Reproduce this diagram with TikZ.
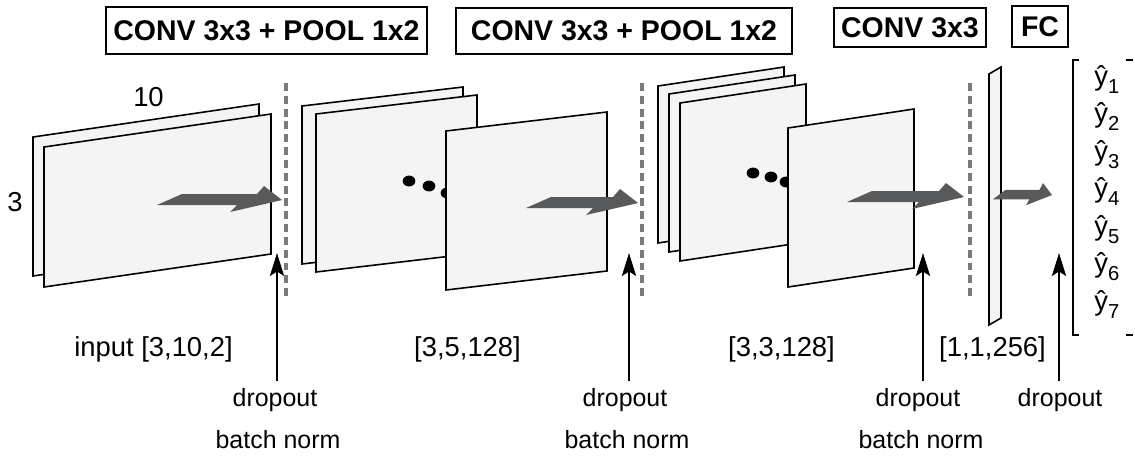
\documentclass[tikz,border=0pt]{standalone}
\usepackage{fontspec}
\setmainfont{Liberation Sans}
\usepackage{xcolor}
\usepackage{tikz}
\usetikzlibrary{arrows.meta}
\definecolor{grisfonce}{HTML}{58595B}
\definecolor{grisclair}{HTML}{F4F4F4}
\definecolor{grispoint}{HTML}{7A7A7A}
\newcommand{\feuille}[5]{\filldraw[feuille] (#1,#2) -- ++(#3,-#5) -- ++(0,#4) -- ++(-#3,#5) -- cycle;}
\newcommand{\grossefleche}[4][]{\fill[grisfonce,shift={(#2,#3)},#1] (0,0) -- (-18,-14) -- (-25,-6) -- (-#4+25,-6) -- (-#4,5) -- (-45,5) -- (-52,12) -- cycle;}

\begin{document}
\begin{tikzpicture}[x=0.02cm,y=-0.02cm]
        \tikzset{feuille/.style={draw=black,fill=grisclair,line width=0.9pt},
          fleche/.style={-{Stealth[length=13pt,width=8pt,inset=2.5pt]},line width=1.5pt,shorten <=4pt},
          sep/.style={grispoint,line width=1.8pt,dash pattern=on 4.5pt off 2.8pt},
          boite/.style={draw,line width=1.1pt,font=\fontsize{16.2}{18}\selectfont\bfseries,inner sep=0pt},
          dim/.style={font=\fontsize{15.6}{18}\selectfont,anchor=base,inner sep=0pt},
          lbl/.style={font=\fontsize{14.2}{16}\selectfont,anchor=base,inner sep=0pt}}
        \useasboundingbox[fill=white] (0,0) rectangle (1135,457);
        \node[boite,minimum width=183pt,minimum height=26.7pt] (C1) at (266.5,30.5) {CONV 3x3 + POOL 1x2};
        \node[boite,minimum width=191.7pt,minimum height=26.1pt] (C2) at (624,31) {CONV 3x3 + POOL 1x2};
        \node[boite,minimum width=86.2pt,minimum height=22.1pt] (C3) at (910,27.5) {CONV 3x3};
        \node[boite,minimum width=31.8pt,minimum height=23.3pt] (FC) at (1040,26.5) {FC};
        \feuille{33}{137}{226}{139}{33}
        \feuille{44}{147}{227}{140}{33}
        \node[dim] (L10) at (148.5,106) {10};
        \node[dim] (L3) at (15,211) {3};
        \grossefleche{282}{200}{125}
        \draw[sep] (286,83) -- (286,298);
        \feuille{302}{106}{161}{158}{19}
        \feuille{316}{114}{161}{158}{19}
        \foreach \x/\y in {409/181,429/186,447/193} \fill (\x,\y) ellipse [x radius=3.6pt,y radius=3.1pt];
        \feuille{446}{131}{161}{159}{19}
        \grossefleche{638}{203}{112}
        \draw[sep] (642,83) -- (642,298);
        \feuille{658}{86}{126}{157}{19}
        \feuille{669}{94}{126}{158}{19}
        \feuille{680}{103}{126}{158}{19}
        \foreach \x/\y in {753/173,771/177,786/182} \fill (\x,\y) ellipse [x radius=3.6pt,y radius=3.1pt];
        \feuille{788}{128}{126}{159}{19}
        \grossefleche{964}{197}{117}
        \draw[sep] (970,83) -- (970,298);
        \feuille{989}{74}{12}{251}{7}
        \grossefleche[xscale=0.5,yscale=0.85]{1052}{195}{118}
        \draw[line width=1.4pt] (1079,60) -- (1073,60) -- (1073,335) -- (1079,335);
        \draw[line width=1.4pt] (1126,60) -- (1133,60) (1126,335) -- (1133,335);
        \foreach \i in {1,...,7}
          \node[dim,anchor=base west] (Y\i) at (1094,{85+37.5*(\i-1)}) {ŷ\raisebox{-0.3em}{\fontsize{11.5}{12}\selectfont\i}};
        \node[dim] (IN) at (153.5,356) {input [3,10,2]};
        \node[dim] (S2) at (467.5,356) {[3,5,128]};
        \node[dim] (S3) at (781.5,356) {[3,3,128]};
        \node[dim] (S4) at (992.5,356) {[1,1,256]};
        \node[lbl] (D1) at (275,406) {dropout};
        \node[lbl] (B1) at (278,448) {batch norm};
        \node[lbl] (D2) at (625,406) {dropout};
        \node[lbl] (B2) at (627,448) {batch norm};
        \node[lbl] (D3) at (918,406) {dropout};
        \node[lbl] (B3) at (921,448) {batch norm};
        \node[lbl] (D4) at (1060,406) {dropout};
        \coordinate (T1) at (277,253);
        \coordinate (T2) at (629,253);
        \coordinate (T3) at (923,253);
        \coordinate (T4) at (1059,253);
        \draw[fleche] (T1 |- D1.north) -- (T1);
        \draw[fleche] (T2 |- D2.north) -- (T2);
        \draw[fleche] (T3 |- D3.north) -- (T3);
        \draw[fleche] (T4 |- D4.north) -- (T4);
\end{tikzpicture}
\end{document}
